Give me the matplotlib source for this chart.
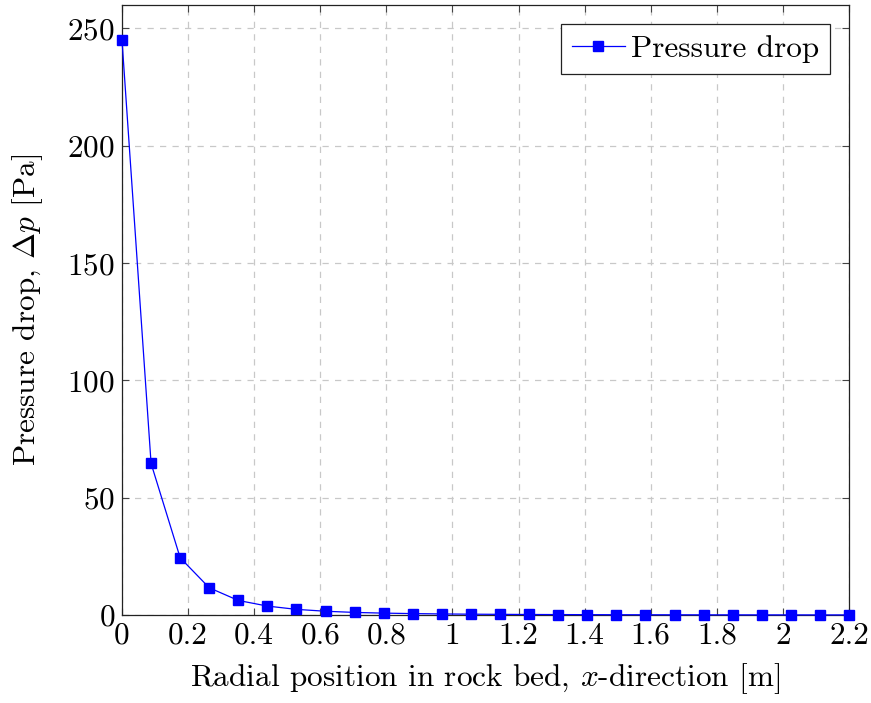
import matplotlib
matplotlib.use("Agg")
import matplotlib.pyplot as plt
import numpy as np

# radial positions [m] and pressure drop [Pa]
x_pos = [0.0, 0.088, 0.176, 0.264, 0.352, 0.44, 0.528, 0.616, 0.704, 0.792,
         0.88, 0.968, 1.056, 1.144, 1.232, 1.32, 1.408, 1.496, 1.584, 1.672,
         1.76, 1.848, 1.936, 2.024, 2.112, 2.2]
dp = [245.0, 64.6, 24.4, 11.6, 6.2, 3.8, 2.4, 1.6, 1.1, 0.8,
      0.6, 0.45, 0.35, 0.28, 0.22, 0.18, 0.15, 0.12, 0.1, 0.09,
      0.07, 0.06, 0.05, 0.045, 0.04, 0.035]

xticks = [0, 0.2, 0.4, 0.6, 0.8, 1, 1.2, 1.4, 1.6, 1.8, 2, 2.2]
xtick_labels = ["0", "0.2", "0.4", "0.6", "0.8", "1", "1.2", "1.4", "1.6", "1.8", "2", "2.2"]
yticks = [0, 50, 100, 150, 200, 250]

plt.rcParams["font.family"] = "cmr10"
plt.rcParams["mathtext.fontset"] = "cm"
plt.rcParams["axes.formatter.use_mathtext"] = True

fig = plt.figure(figsize=(8.71, 7.03), dpi=100)
ax = fig.add_axes([122 / 871, 1 - 615 / 703, 727 / 871, 610 / 703])

ax.plot(x_pos, dp, color="blue", lw=0.9, marker="s", ms=7,
        label="Pressure drop", clip_on=False, zorder=3)

ax.set_xlim(0, 2.2)
ax.set_ylim(0, 260)
ax.set_xticks(xticks)
ax.set_xticklabels(xtick_labels)
ax.set_yticks(yticks)

ax.grid(True, color="#c8c8c8", ls=(0, (5, 5)), lw=0.9)
ax.set_axisbelow(True)
ax.tick_params(direction="in", top=True, right=True, length=5, width=0.8,
               color="#444444", labelsize=22.5, pad=5)
for s in ax.spines.values():
    s.set_linewidth(0.9)
    s.set_color("#222222")

ax.set_xlabel(r"Radial position in rock bed, $x$-direction [m]", fontsize=22.5, labelpad=8)
ax.set_ylabel(r"Pressure drop, $\Delta p$ [Pa]", fontsize=22.5, labelpad=16)

leg = ax.legend(loc="upper right", fontsize=22.5, fancybox=False, framealpha=1,
                edgecolor="#222222", handlelength=1.7, handletextpad=0.2,
                borderpad=0.35, borderaxespad=0.6)
leg.get_frame().set_linewidth(0.9)

fig.savefig("out.png", dpi=100)
